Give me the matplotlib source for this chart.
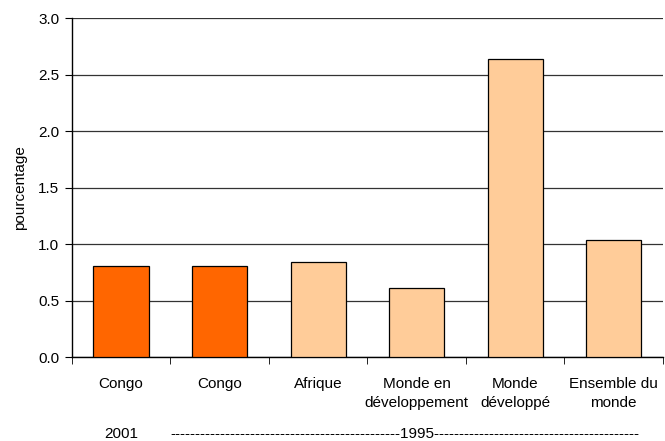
import matplotlib.pyplot as plt
import numpy as np

plt.rcParams['font.family'] = ['Liberation Sans', 'DejaVu Sans']

categories = ['Congo', 'Congo', 'Afrique', 'Monde en\ndéveloppement',
              'Monde\ndéveloppé', 'Ensemble du\nmonde']
values = [0.81, 0.81, 0.84, 0.61, 2.64, 1.04]
bar_colors = ['#FF6600', '#FF6600', '#FFCC99', '#FFCC99', '#FFCC99', '#FFCC99']

fig = plt.figure(figsize=(6.65, 4.41), dpi=100)
ax = fig.add_axes([0.108, 0.19, 0.889, 0.769])

x = np.arange(len(categories))
ax.bar(x, values, width=0.56, color=bar_colors, edgecolor='black',
       linewidth=0.9, zorder=3)

ax.set_xlim(-0.5, len(categories) - 0.5)
ax.set_ylim(0, 3.0)
ax.set_yticks(np.arange(0, 3.01, 0.5))
ax.set_yticklabels([f'{v:.1f}' for v in np.arange(0, 3.01, 0.5)], fontsize=11)
ax.yaxis.grid(True, color='#333333', linewidth=0.9, zorder=0)

# category labels sit between the boundary ticks
ax.set_xticks(x)
ax.set_xticklabels(categories, fontsize=11, linespacing=1.45)
ax.tick_params(axis='x', length=0, pad=14)
ax.set_xticks(np.arange(-0.5, len(categories), 1.0), minor=True)
ax.tick_params(axis='x', which='minor', length=5, direction='out')
ax.tick_params(axis='y', length=5, direction='out', pad=4)

for side in ['top', 'right']:
    ax.spines[side].set_visible(False)
ax.spines['left'].set_linewidth(1.0)
ax.spines['bottom'].set_linewidth(1.0)

ax.set_ylabel('pourcentage', fontsize=11, labelpad=8)

# year row under the categories
ax.text(0, -0.675, '2001', ha='center', va='center', fontsize=11,
        clip_on=False)
ax.text(0.5, -0.675, '-' * 46 + '1995' + '-' * 41, ha='left', va='center',
        fontsize=11, clip_on=False)

fig.savefig('out.png', dpi=100)
